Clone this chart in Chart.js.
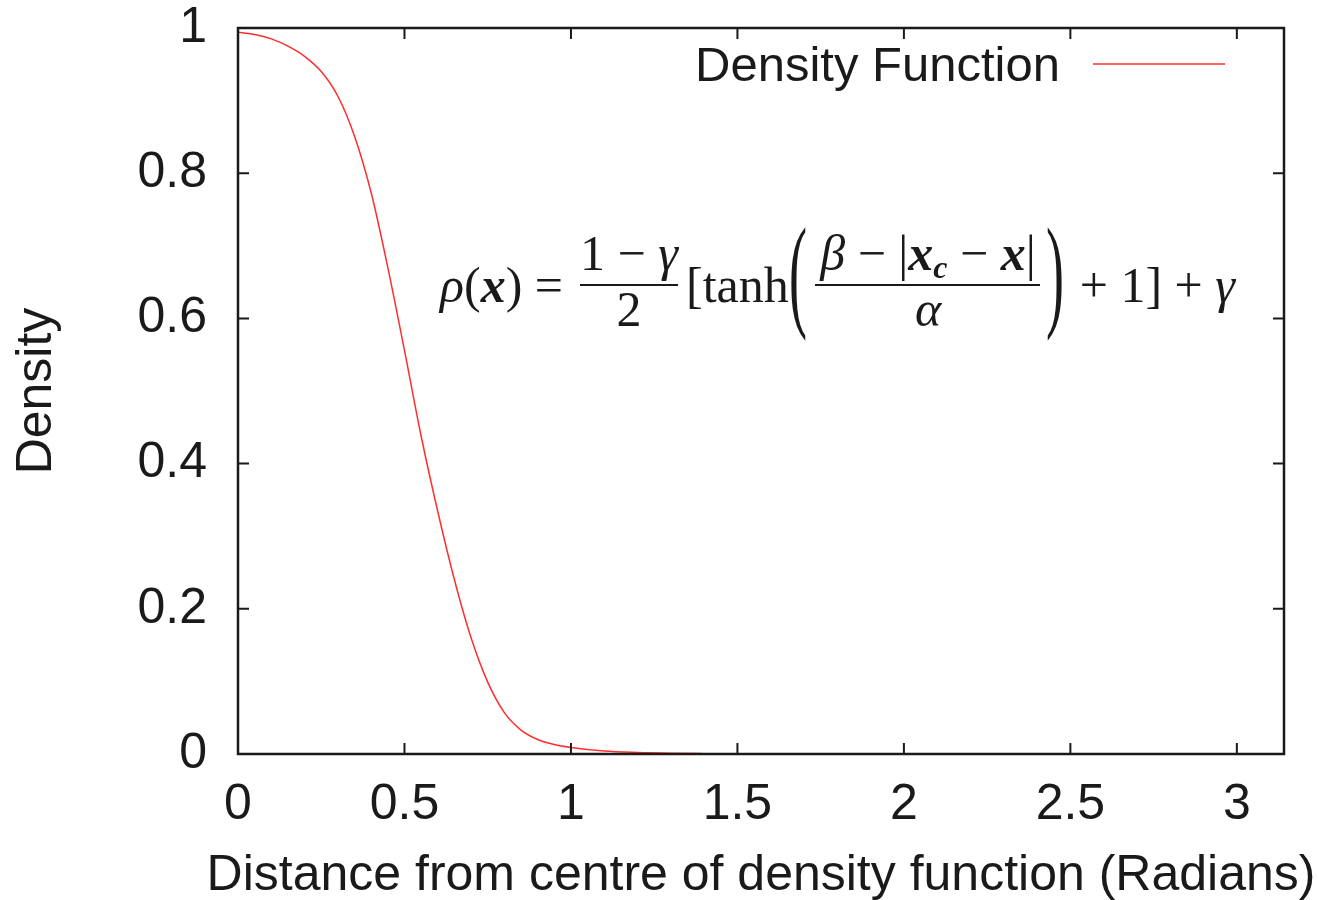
<!DOCTYPE html>
<html>
<head>
<meta charset="utf-8">
<script src="https://cdn.jsdelivr.net/npm/chart.js@4/dist/chart.umd.min.js"></script>
<style>
  body { margin: 0; background: #fff; }
  #wrap { width: 1318px; height: 900px; }
</style>
</head>
<body>
<div id="wrap"><canvas id="density"></canvas></div>
<script>
// values
const distance = [0, 0.05, 0.1, 0.15, 0.2, 0.25, 0.3, 0.35, 0.4, 0.45, 0.5, 0.55, 0.6, 0.65, 0.7, 0.75, 0.8, 0.85, 0.9, 0.95, 1.0, 1.1, 1.2, 1.3, 1.4, 1.5, 2.0, 2.5, 3.0, 3.1416];
const density = [0.994, 0.991, 0.985, 0.975, 0.961, 0.940, 0.906, 0.851, 0.773, 0.670, 0.556, 0.438, 0.334, 0.240, 0.160, 0.099, 0.057, 0.033, 0.020, 0.013, 0.009, 0.004, 0.002, 0.001, 0.0005, 0.0002, 0, 0, 0, 0];
const seriesName = 'Density Function';
const xTitle = 'Distance from centre of density function (Radians)';
const yTitle = 'Density';

const sans = '"Liberation Sans", Arial, sans-serif';
const serif = '"Liberation Serif", "DejaVu Serif", serif';
const ink = '#1a1a1a';
const curveColor = 'rgb(255, 45, 45)';

// gnuplot style frame with inward ticks on all four sides
const frameTicks = {
    id: 'frameTicks',
    afterDraw(chart) {
        const { ctx, chartArea: a, scales: { x, y } } = chart;
        const len = 11;
        ctx.save();
        ctx.strokeStyle = ink;
        ctx.lineWidth = 2;
        ctx.beginPath();
        x.ticks.forEach(t => {
            const px = x.getPixelForValue(t.value);
            ctx.moveTo(px, a.bottom); ctx.lineTo(px, a.bottom - len);
            ctx.moveTo(px, a.top); ctx.lineTo(px, a.top + len);
        });
        y.ticks.forEach(t => {
            const py = y.getPixelForValue(t.value);
            ctx.moveTo(a.left, py); ctx.lineTo(a.left + len, py);
            ctx.moveTo(a.right, py); ctx.lineTo(a.right - len, py);
        });
        ctx.stroke();
        ctx.lineWidth = 2.5;
        ctx.strokeRect(a.left, a.top, a.right - a.left, a.bottom - a.top);
        ctx.restore();
    }
};

// legend in the top right corner: text then line sample,
// and the x title, which is wider than the plot so Chart.js would squeeze it
const keyLegend = {
    id: 'keyLegend',
    afterDraw(chart) {
        const { ctx, chartArea: a } = chart;
        ctx.save();
        ctx.font = `49px ${sans}`;
        ctx.fillStyle = ink;
        ctx.textAlign = 'right';
        ctx.textBaseline = 'middle';
        ctx.fillText(seriesName, 1060, 67);
        ctx.strokeStyle = curveColor;
        ctx.lineWidth = 1.5;
        ctx.beginPath();
        ctx.moveTo(1093, 64);
        ctx.lineTo(1225, 64);
        ctx.stroke();

        ctx.font = `50px ${sans}`;
        ctx.textAlign = 'center';
        ctx.fillText(xTitle, (a.left + a.right) / 2, 876);
        ctx.restore();
    }
};

function run(ctx, parts, x, y) {
    parts.forEach(p => {
        ctx.font = p.f;
        ctx.fillText(p.t, x, y + (p.dy || 0));
        x += ctx.measureText(p.t).width;
    });
    return x;
}

function runWidth(ctx, parts) {
    let w = 0;
    parts.forEach(p => { ctx.font = p.f; w += ctx.measureText(p.t).width; });
    return w;
}

// tall thin bracket: a normal glyph stretched vertically
function tallParen(ctx, ch, x, cy, size, stretch) {
    ctx.save();
    ctx.font = `${size}px ${serif}`;
    ctx.translate(x, cy);
    ctx.scale(1, stretch);
    ctx.fillText(ch, 0, 0.245 * size);
    ctx.restore();
}

// the density formula written inside the plot
const formula = {
    id: 'formula',
    afterDraw(chart) {
        const { ctx } = chart;
        const N = `50px ${serif}`;
        const I = `italic 50px ${serif}`;
        const B = `italic bold 50px ${serif}`;
        const S = `italic bold 32px ${serif}`;
        const base = 302;
        ctx.save();
        ctx.fillStyle = ink;
        ctx.strokeStyle = ink;
        ctx.textBaseline = 'alphabetic';
        ctx.textAlign = 'left';

        run(ctx, [{ t: 'ρ', f: I }, { t: '(', f: N }, { t: 'x', f: B }, { t: ') = ', f: N }], 440, base);

        const num1 = [{ t: '1 − ', f: N }, { t: 'γ', f: I }];
        run(ctx, num1, 629 - runWidth(ctx, num1) / 2, 270);
        const den1 = [{ t: '2', f: N }];
        run(ctx, den1, 629 - runWidth(ctx, den1) / 2, 326);
        ctx.lineWidth = 2;
        ctx.beginPath(); ctx.moveTo(580, 285); ctx.lineTo(678, 285); ctx.stroke();

        run(ctx, [{ t: '[tanh', f: N }], 686, base);

        tallParen(ctx, '(', 789, 284, 54, 2.3);
        tallParen(ctx, ')', 1046, 284, 54, 2.3);

        const num2 = [{ t: 'β', f: I }, { t: ' − |', f: N }, { t: 'x', f: B }, { t: 'c', f: S, dy: 8 }, { t: ' − ', f: N }, { t: 'x', f: B }, { t: '|', f: N }];
        run(ctx, num2, 928 - runWidth(ctx, num2) / 2, 270);
        const den2 = [{ t: 'α', f: I }];
        run(ctx, den2, 928 - runWidth(ctx, den2) / 2, 326);
        ctx.beginPath(); ctx.moveTo(815, 285); ctx.lineTo(1040, 285); ctx.stroke();

        const tail = [{ t: '+ 1] + ', f: N }, { t: 'γ', f: I }];
        run(ctx, tail, 1235 - runWidth(ctx, tail), base);
        ctx.restore();
    }
};

const tickFont = { family: sans, size: 50 };
const fmt = v => String(Math.round(v * 10) / 10);

new Chart(document.getElementById('density'), {
    type: 'line',
    data: {
        datasets: [{
            label: seriesName,
            data: distance.map((d, i) => ({ x: d, y: density[i] })),
            borderColor: curveColor,
            borderWidth: 1.5,
            pointRadius: 0,
            cubicInterpolationMode: 'monotone',
            fill: false
        }]
    },
    options: {
        responsive: true,
        maintainAspectRatio: false,
        animation: false,
        layout: { padding: { top: 28, right: 34, left: 0, bottom: 0 } },
        plugins: {
            legend: { display: false },
            tooltip: { enabled: false }
        },
        scales: {
            x: {
                type: 'linear',
                min: 0,
                max: 3.1416,
                grid: { display: false, drawTicks: false },
                border: { display: false },
                ticks: {
                    stepSize: 0.5,
                    includeBounds: false,
                    maxRotation: 0,
                    padding: 21,
                    color: ink,
                    font: tickFont,
                    callback: fmt
                },
                title: { display: false },
                afterFit(scale) {
                    scale.height = 146;
                    scale.paddingLeft = 0;
                    scale.paddingRight = 0;
                }
            },
            y: {
                min: 0,
                max: 1,
                grid: { display: false, drawTicks: false },
                border: { display: false },
                ticks: {
                    stepSize: 0.2,
                    padding: 31,
                    color: ink,
                    font: tickFont,
                    callback: fmt
                },
                title: {
                    display: true,
                    text: yTitle,
                    color: ink,
                    padding: { top: 12, bottom: 0 },
                    font: { family: sans, size: 50, lineHeight: 1.0 }
                },
                afterFit(scale) {
                    scale.width = 238;
                    scale.paddingTop = 0;
                    scale.paddingBottom = 0;
                }
            }
        }
    },
    plugins: [frameTicks, keyLegend, formula]
});
</script>
</body>
</html>
